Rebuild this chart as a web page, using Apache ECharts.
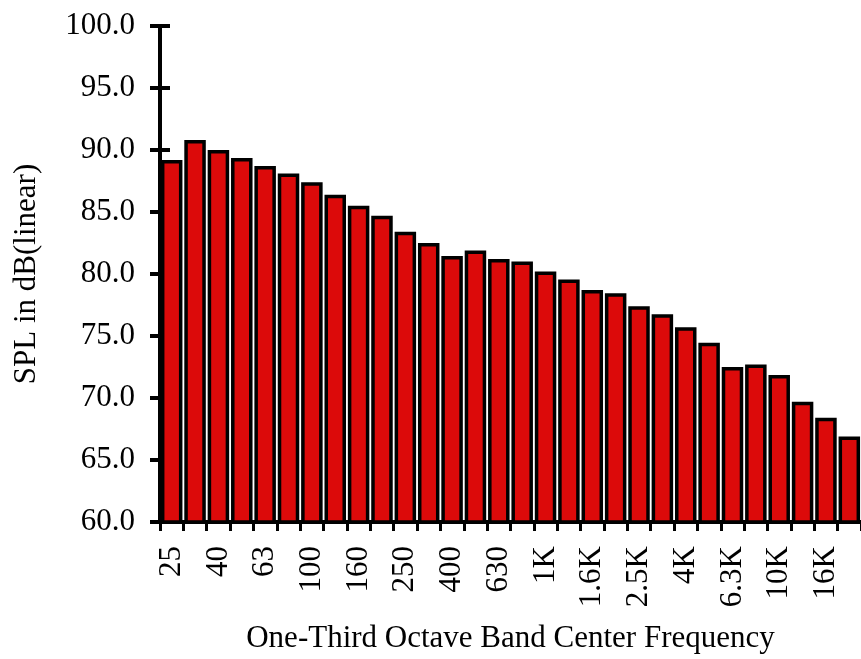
<!DOCTYPE html>
<html>
<head>
<meta charset="utf-8">
<script src="https://cdn.jsdelivr.net/npm/echarts@6/dist/echarts.min.js"></script>
<style>
html,body{margin:0;padding:0;background:#fff;}
#chart{width:861px;height:659px;}
</style>
</head>
<body>
<div id="chart"></div>
<script>
const bands = ["25","31.5","40","50","63","80","100","125","160","200","250","315","400","500","630","800","1K","1.25K","1.6K","2K","2.5K","3.15K","4K","5K","6.3K","8K","10K","12.5K","16K","20K"];
const splValues = [89.2,90.8,90.0,89.35,88.7,88.1,87.4,86.4,85.5,84.7,83.4,82.5,81.45,81.9,81.2,81.0,80.2,79.55,78.7,78.45,77.4,76.75,75.7,74.45,72.5,72.7,71.85,69.7,68.4,66.9];
const yMin = 60, yMax = 100, yStep = 5;
const xTitle = "One-Third Octave Band Center Frequency";
const yTitle = "SPL in dB(linear)";

const font = "'Liberation Serif','Times New Roman',serif";
const chart = echarts.init(document.getElementById('chart'));
const yCommon = {type:'value', min:yMin, max:yMax, interval:yStep, splitLine:{show:false}};
chart.setOption({
  animation:false,
  backgroundColor:'#fff',
  grid:{left:160, right:-6, top:26, bottom:135},
  xAxis:{
    type:'category', data:bands,
    axisLine:{lineStyle:{color:'#000', width:4}},
    axisTick:{show:true, interval:0, length:9, lineStyle:{color:'#000', width:3}},
    axisLabel:{interval:1, rotate:90, margin:24, fontSize:31, color:'#000', fontFamily:font, padding:[0,0,16,0]},
    name:xTitle, nameLocation:'middle', nameGap:101,
    nameTextStyle:{fontSize:31, color:'#000', fontFamily:font}
  },
  yAxis:[
    Object.assign({}, yCommon, {
      axisLine:{show:true, lineStyle:{color:'#000', width:4}},
      axisTick:{show:true, length:10, lineStyle:{color:'#000', width:4}},
      axisLabel:{margin:25, fontSize:31, color:'#000', fontFamily:font, formatter:v=>v.toFixed(1)},
      name:yTitle, nameLocation:'middle', nameGap:118, nameRotate:90,
      nameTextStyle:{fontSize:31, color:'#000', fontFamily:font}
    }),
    Object.assign({}, yCommon, {
      position:'left',
      axisLine:{show:false},
      axisTick:{show:true, inside:true, length:10, lineStyle:{color:'#000', width:4}},
      axisLabel:{show:false}
    })
  ],
  series:[{
    type:'bar', data:splValues, yAxisIndex:0,
    barCategoryGap:'8%',
    itemStyle:{color:'#dc0a0a', borderColor:'#000', borderWidth:3.5}
  }]
});
</script>
</body>
</html>
